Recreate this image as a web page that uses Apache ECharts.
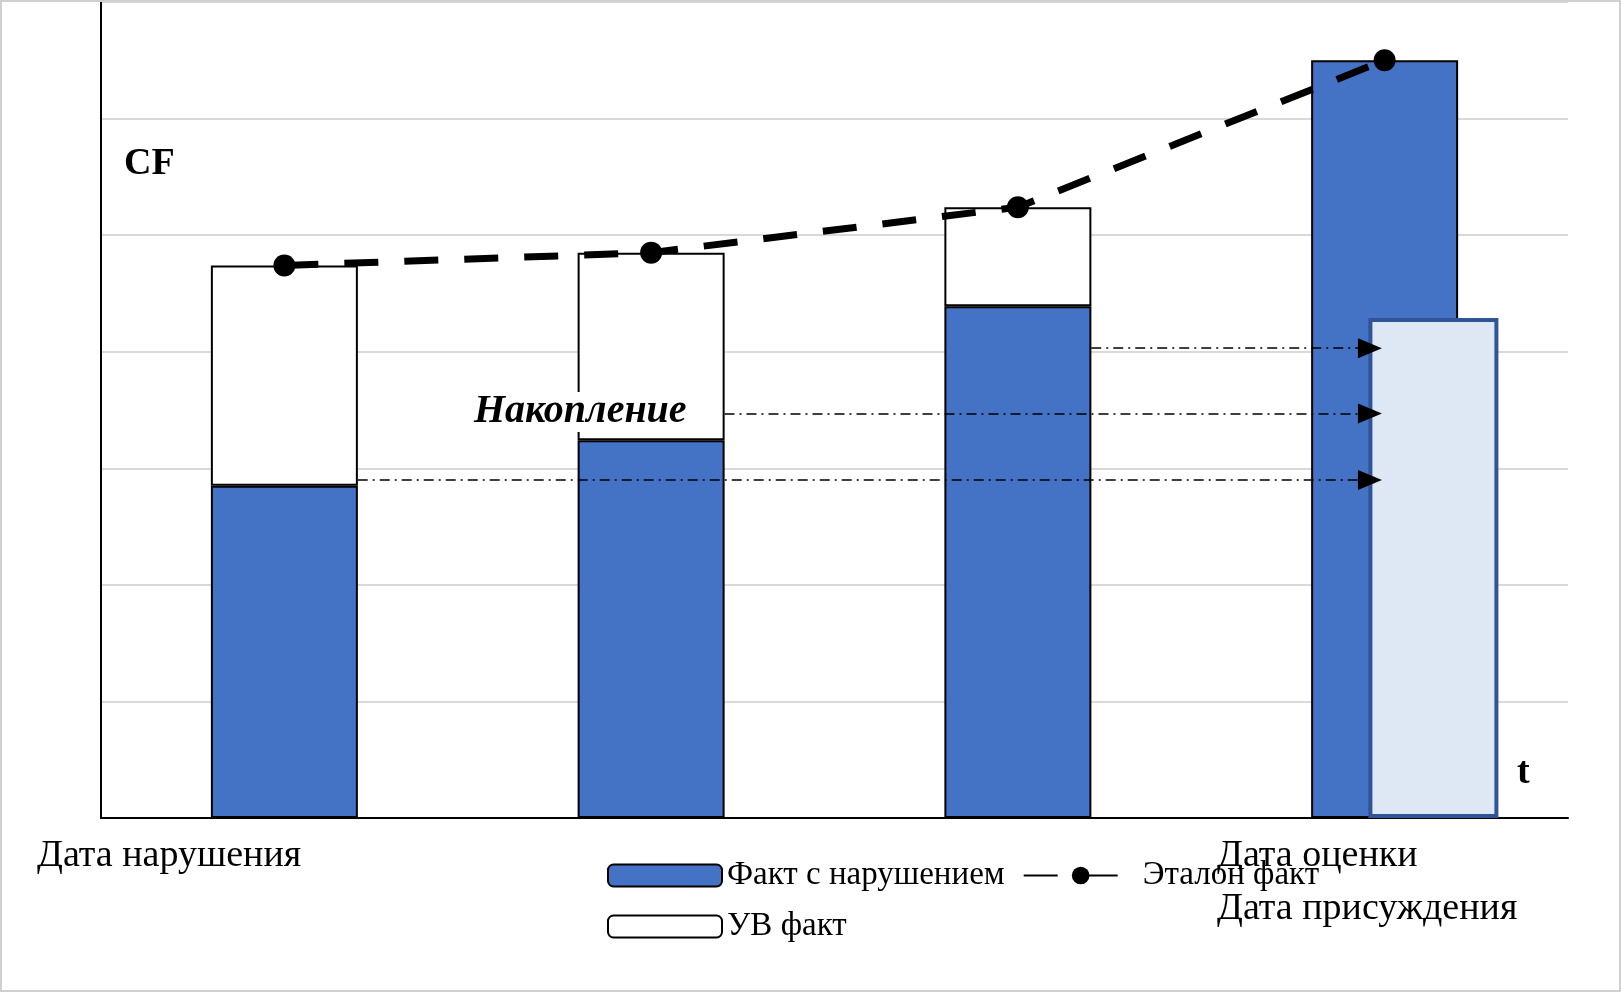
<!DOCTYPE html>
<html><head><meta charset="utf-8">
<script src="https://cdn.jsdelivr.net/npm/echarts@6/dist/echarts.min.js"></script>
<style>html,body{margin:0;padding:0;background:#fff}#c{width:1621px;height:992px;box-sizing:border-box;border:2px solid #d0d0d0}</style>
</head><body><div id="c"></div>
<script>
const categories = ['1','2','3','4'];
const factViolation = [2.85, 3.24, 4.39, 6.5];
const uvFact = [1.89, 1.61, 0.85, null];
const etalon = [4.74, 4.85, 5.24, 6.5];
const uvBar = [[3.633, 4.29]];
const arrows = [[0.7, 2.9, 3.46, 2.9],[1.7, 3.47, 3.46, 3.47],[2.7, 4.03, 3.46, 4.03]];

const serif = '"Liberation Serif","DejaVu Serif",serif';
const chart = echarts.init(document.getElementById('c'));
chart.setOption({
  animation:false,
  grid:{left:99,right:51,top:0,bottom:172},
  xAxis:[
    {type:'category',data:categories,axisLine:{lineStyle:{color:'#000',width:2}},axisTick:{show:false},axisLabel:{show:false}},
    {type:'value',min:0,max:4,show:false}
  ],
  yAxis:{type:'value',min:0,max:7,interval:1,axisLine:{show:true,lineStyle:{color:'#000',width:2}},axisLabel:{show:false},axisTick:{show:false},splitLine:{lineStyle:{color:'#d9d9d9',width:2}}},
  legend:{orient:'vertical',left:600,top:852,itemGap:18,itemWidth:114,itemHeight:22,
    textStyle:{fontFamily:serif,fontSize:33,color:'#000'},
    data:['Факт с нарушением','УВ факт','Эталон факт']},
  series:[
    {name:'Факт с нарушением',type:'bar',stack:'a',barWidth:147,data:factViolation,itemStyle:{color:'#4472c4',borderColor:'#000',borderWidth:2}},
    {name:'УВ факт',type:'bar',stack:'a',data:uvFact,itemStyle:{color:'#fff',borderColor:'#000',borderWidth:2}},
    {name:'Эталон факт',type:'line',data:etalon,symbol:'circle',symbolSize:22,z:5,
      lineStyle:{color:'#000',width:7,type:[34,26]},itemStyle:{color:'#000'}},
    {name:'УВ',type:'bar',xAxisIndex:1,barWidth:130,data:uvBar,z:4,
      itemStyle:{color:'#dde8f4',borderColor:'#2f5597',borderWidth:4},
      markLine:{silent:true,symbol:['none','triangle'],symbolSize:[20,24],label:{show:false},
        lineStyle:{color:'#000',width:1.5,type:[10,5,2,5]},
        data:arrows.map(a=>[{coord:[a[0],a[1]]},{coord:[a[2],a[3]]}])}}
  ],
  graphic:[
    {type:'text',left:122,top:143,style:{text:'CF',font:'bold 38px '+serif,fill:'#000'}},
    {type:'text',left:1515,top:752,style:{text:'t',font:'bold 38px '+serif,fill:'#000'}},
    {type:'text',left:1404,top:612,style:{text:'УВ',font:'bold 38px '+serif,fill:'#000'}},
    {type:'text',left:472,top:390,z:10,style:{text:'Накопление',font:'italic bold 40px '+serif,fill:'#000',backgroundColor:'#fff'}},
    {type:'text',left:35,top:835,style:{text:'Дата нарушения',font:'38px '+serif,fill:'#000'}},
    {type:'text',left:1215,top:835,style:{text:'Дата оценки',font:'38px '+serif,fill:'#000'}},
    {type:'text',left:1215,top:888,style:{text:'Дата присуждения',font:'38px '+serif,fill:'#000'}}
  ]
});
</script></body></html>
